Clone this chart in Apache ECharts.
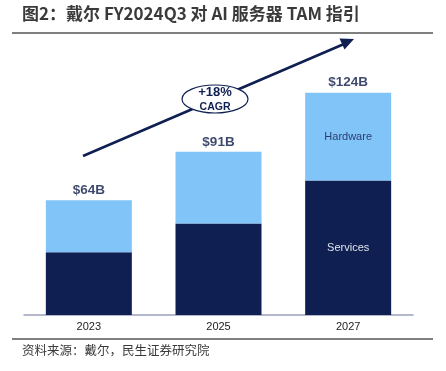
<!DOCTYPE html>
<html><head><meta charset="utf-8">
<script src="https://cdn.jsdelivr.net/npm/echarts@6/dist/echarts.min.js"></script>
<style>html,body{margin:0;padding:0;background:#fff}#c{width:446px;height:371px}</style>
</head><body><div id="c"></div>
<script>
const categories = ['2023', '2025', '2027'];
const services = [35, 51, 75];
const hardware = [29, 40, 49];
const totals = [64, 91, 124];
const totalLabels = ['$64B', '$91B', '$124B'];

const navy = '#0f1f52';
const light = '#80c4f8';
const chart = echarts.init(document.getElementById('c'));
const lab = "'Liberation Sans', Arial, sans-serif";

chart.setOption({
  animation: false,
  grid: { left: 24, right: 33, top: 64, bottom: 56 },
  xAxis: {
    type: 'category', data: categories,
    axisLine: { lineStyle: { color: '#9aa3bb', width: 1.5 } },
    axisTick: { show: false },
    axisLabel: { color: '#222', fontSize: 11, fontFamily: lab, margin: 6 }
  },
  yAxis: { type: 'value', min: 0, max: 140, show: false, splitLine: { show: false } },
  series: [
    { name: 'Services', type: 'bar', stack: 't', barWidth: 86,
      itemStyle: { color: navy },
      data: services.map((v, i) => i === 2 ? { value: v, label: { show: true, position: 'inside', formatter: 'Services', color: '#dfe3ee', fontSize: 11, fontFamily: lab } } : v) },
    { name: 'Hardware', type: 'bar', stack: 't', barWidth: 86,
      itemStyle: { color: light },
      data: hardware.map((v, i) => i === 2 ? { value: v, label: { show: true, position: 'inside', formatter: 'Hardware', color: '#2d3d6e', fontSize: 11, fontFamily: lab } } : v) },
    { name: 'Total', type: 'scatter', symbolSize: 0, data: totals,
      label: { show: true, position: 'top', distance: 3, formatter: p => totalLabels[p.dataIndex], color: '#0c1a48', fontWeight: 'bold', fontSize: 13.5, fontFamily: lab } }
  ],
  graphic: [
    { type: 'text', left: 22, top: 5, style: { text: '图2：戴尔 FY2024Q3 对 AI 服务器 TAM 指引', fill: '#3a3a3a', font: "bold 17px 'Noto Sans CJK SC', sans-serif" } },
    { type: 'line', shape: { x1: 12, y1: 33, x2: 433, y2: 33 }, style: { stroke: '#555', lineWidth: 1.5 } },
    { type: 'line', shape: { x1: 12, y1: 339, x2: 433, y2: 339 }, style: { stroke: '#555', lineWidth: 1.5 } },
    { type: 'text', left: 22, top: 344, style: { text: '资料来源：戴尔，民生证券研究院', fill: '#3a3a3a', font: "12.5px 'Noto Sans CJK SC', sans-serif" } },
    { type: 'line', shape: { x1: 83, y1: 156, x2: 344, y2: 44 }, style: { stroke: navy, lineWidth: 2.5 }, z: 10 },
    { type: 'polygon', shape: { points: [[354, 39], [344.5, 49.5], [339.5, 38.5]] }, style: { fill: navy }, z: 10 },
    { type: 'ellipse', shape: { cx: 215, cy: 99, rx: 33, ry: 14 }, style: { fill: '#fff', stroke: navy, lineWidth: 1.2 }, z: 11 },
    { type: 'text', x: 215, y: 92, style: { text: '+18%', textAlign: 'center', textVerticalAlign: 'middle', fill: navy, font: "bold 13px " + lab }, z: 12 },
    { type: 'text', x: 215, y: 107, style: { text: 'CAGR', textAlign: 'center', textVerticalAlign: 'middle', fill: navy, font: "bold 10.5px " + lab }, z: 12 }
  ]
});
</script></body></html>
